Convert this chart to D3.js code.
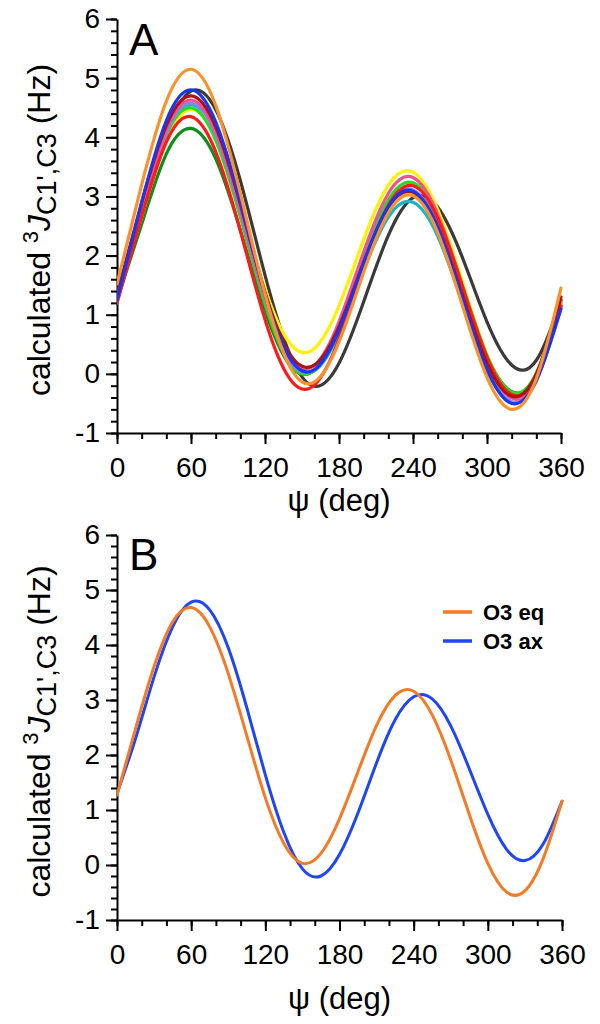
<!DOCTYPE html>
<html><head><meta charset="utf-8">
<script src="https://cdn.jsdelivr.net/npm/d3@7"></script>
<style>html,body{margin:0;padding:0;background:#fff;} svg{display:block;font-family:"Liberation Sans",Arial,sans-serif;}</style>
</head><body>
<script>
// ---- data ----
const psiA = [0,20,40,60,80,100,120,140,160,180,200,220,240,260,280,300,320,340,360];
const psiB = [0,15,30,45,60,75,90,105,120,135,150,165,180,195,210,225,240,255,270,285,300,315,330,345,360];
const yTicks = [-1,0,1,2,3,4,5,6];
const xTicks = [0,60,120,180,240,300,360];

const blackA     = [1.30,2.70,4.07,4.78,4.47,3.27,1.67,0.34,-0.21,0.18,1.22,2.34,2.98,2.82,1.97,0.88,0.15,0.23,1.25];
const cyanA      = [1.25,2.75,4.05,4.55,4.03,2.74,1.27,0.24,0.05,0.68,1.75,2.65,2.90,2.33,1.20,0.06,-0.49,-0.11,1.15];
const darkgreenA = [1.25,2.53,3.72,4.15,3.64,2.43,1.07,0.15,0.06,0.77,1.88,2.81,3.09,2.55,1.44,0.30,-0.30,-0.03,1.20];
const redA       = [1.20,2.66,3.92,4.35,3.76,2.42,0.92,-0.08,-0.19,0.59,1.81,2.85,3.18,2.64,1.48,0.28,-0.35,-0.05,1.15];
const yellowA    = [1.30,2.66,3.95,4.47,4.01,2.81,1.44,0.52,0.43,1.15,2.27,3.19,3.41,2.78,1.56,0.32,-0.34,-0.07,1.20];
const greenA     = [1.30,2.77,4.04,4.50,3.95,2.65,1.18,0.18,0.06,0.79,1.95,2.94,3.23,2.66,1.50,0.31,-0.31,0.01,1.25];
const lavenderA  = [1.20,2.75,4.08,4.58,4.05,2.75,1.26,0.23,0.07,0.76,1.89,2.85,3.11,2.51,1.33,0.13,-0.47,-0.12,1.12];
const pinkA      = [1.30,2.80,4.13,4.63,4.10,2.78,1.29,0.27,0.14,0.88,2.06,3.05,3.32,2.70,1.48,0.23,-0.41,-0.08,1.25];
const darkredA   = [1.35,2.90,4.20,4.70,4.18,2.87,1.38,0.34,0.15,0.80,1.89,2.82,3.07,2.49,1.33,0.18,-0.38,0.00,1.30];
const blueA      = [1.25,2.90,4.28,4.80,4.26,2.91,1.35,0.27,0.07,0.74,1.87,2.83,3.09,2.48,1.28,0.08,-0.50,-0.11,1.10];
const orangeA    = [1.52,3.20,4.61,5.15,4.54,3.05,1.35,0.13,-0.14,0.54,1.72,2.72,3.01,2.39,1.16,-0.06,-0.60,-0.08,1.45];

const o3eq = [1.27,2.48,3.61,4.42,4.68,4.33,3.48,2.35,1.22,0.39,0.03,0.21,0.84,1.70,2.54,3.08,3.16,2.73,1.91,0.92,0.03,-0.49,-0.47,0.13,1.16];
const o3ax = [1.30,2.30,3.42,4.33,4.78,4.64,3.95,2.86,1.64,0.59,-0.07,-0.20,0.19,0.95,1.86,2.64,3.06,3.02,2.53,1.75,0.92,0.29,0.08,0.39,1.16];

const seriesA = [
  {v: blackA, c: "#3a3a3a"},
  {v: cyanA, c: "#1fb3c6"},
  {v: darkgreenA, c: "#0c8f1a"},
  {v: yellowA, c: "#fff200"},
  {v: greenA, c: "#22dd22"},
  {v: lavenderA, c: "#8585f5"},
  {v: pinkA, c: "#f4508f"},
  {v: redA, c: "#ff1a1a"},
  {v: darkredA, c: "#a81414"},
  {v: blueA, c: "#1a36f0"},
  {v: orangeA, c: "#f9922a"}
];
const seriesB = [
  {v: o3ax, c: "#1f45f5", name: "O3 ax"},
  {v: o3eq, c: "#f47a25", name: "O3 eq"}
];

const W = 600, H = 1024;
const svg = d3.select("body").append("svg").attr("width", W).attr("height", H);
svg.append("rect").attr("width", W).attr("height", H).attr("fill", "#fff");

function panel(cfg) {
  const x = d3.scaleLinear().domain([0, 360]).range([cfg.x0, cfg.x1]);
  const y = d3.scaleLinear().domain([-1, 6]).range([cfg.yBot, cfg.yTop]);
  const g = svg.append("g");

  // minor ticks
  g.append("g").attr("transform", `translate(0,${cfg.yBot})`)
    .call(d3.axisBottom(x).tickValues(d3.range(0, 361, 20)).tickSize(6).tickSizeOuter(0).tickFormat(""))
    .call(s => s.select(".domain").remove())
    .call(s => s.selectAll("line").attr("stroke", "#000").attr("stroke-width", 2));
  g.append("g").attr("transform", `translate(${cfg.x0},0)`)
    .call(d3.axisLeft(y).tickValues(d3.range(-1, 6.001, 0.2)).tickSize(6).tickSizeOuter(0).tickFormat(""))
    .call(s => s.select(".domain").remove())
    .call(s => s.selectAll("line").attr("stroke", "#000").attr("stroke-width", 2));

  // major axes
  const ax = g.append("g").attr("transform", `translate(0,${cfg.yBot})`)
    .call(d3.axisBottom(x).tickValues(xTicks).tickFormat(d => String(d)).tickSize(11).tickSizeOuter(0).tickPadding(13));
  const ay = g.append("g").attr("transform", `translate(${cfg.x0},0)`)
    .call(d3.axisLeft(y).tickValues(yTicks).tickFormat(d => String(d)).tickSize(11).tickSizeOuter(0).tickPadding(6));
  [ax, ay].forEach(a => {
    a.select(".domain").attr("stroke", "#000").attr("stroke-width", 2);
    a.selectAll("line").attr("stroke", "#000").attr("stroke-width", 2);
    a.selectAll("text").attr("fill", "#000").style("font-size", "28px")
      .style("font-family", '"Liberation Sans", Arial, sans-serif');
  });

  // curves
  const line = d3.line().x((d, i) => x(cfg.psi[i])).y(d => y(d)).curve(d3.curveNatural);
  const clip = "clip" + cfg.id;
  g.append("clipPath").attr("id", clip).append("rect")
    .attr("x", cfg.x0).attr("y", cfg.yTop - 5).attr("width", cfg.x1 - cfg.x0 + 4).attr("height", cfg.yBot - cfg.yTop + 5);
  g.append("g").attr("clip-path", `url(#${clip})`).selectAll("path").data(cfg.series).join("path")
    .attr("d", s => line(s.v)).attr("fill", "none").attr("stroke", s => s.c)
    .attr("stroke-width", cfg.lw).attr("stroke-linejoin", "round").attr("stroke-linecap", "round");

  // panel letter
  g.append("text").attr("x", cfg.x0 + 12).attr("y", cfg.letterY).text(cfg.letter)
    .style("font-size", "44px").attr("fill", "#000");

  // x title
  g.append("text").attr("x", (cfg.x0 + cfg.x1) / 2).attr("y", cfg.xTitleY).attr("text-anchor", "middle")
    .style("font-size", "31px").attr("fill", "#000").text("ψ (deg)");

  // y title
  const yc = (cfg.yTop + cfg.yBot) / 2 + 4;
  const t = g.append("text").attr("transform", `translate(50,${yc}) rotate(-90)`)
    .attr("text-anchor", "middle").style("font-size", "32px").attr("fill", "#000");
  t.append("tspan").text("calculated ");
  t.append("tspan").attr("dy", -12).style("font-size", "22px").text("3");
  t.append("tspan").attr("dy", 12).style("font-style", "italic").text("J");
  t.append("tspan").attr("dy", 6).style("font-size", "27px").text("C1',C3");
  t.append("tspan").attr("dy", -6).text(" (Hz)");
  return {x, y, g};
}

panel({id: "A", x0: 117, x1: 561, yTop: 19, yBot: 433, psi: psiA, series: seriesA, lw: 3.2,
       letter: "A", letterY: 55, xTitleY: 511});
const pB = panel({id: "B", x0: 117, x1: 562, yTop: 535, yBot: 920, psi: psiB, series: seriesB, lw: 3,
       letter: "B", letterY: 570, xTitleY: 1009});

// legend in panel B
const leg = pB.g.append("g");
const legItems = [seriesB[1], seriesB[0]];
legItems.forEach((s, i) => {
  const yy = 612 + i * 29;
  leg.append("line").attr("x1", 443).attr("x2", 472).attr("y1", yy).attr("y2", yy)
    .attr("stroke", s.c).attr("stroke-width", 3.5);
  leg.append("text").attr("x", 483).attr("y", yy + 8).text(s.name)
    .style("font-size", "22px").style("font-weight", "bold").attr("fill", "#000");
});
</script>
</body></html>
